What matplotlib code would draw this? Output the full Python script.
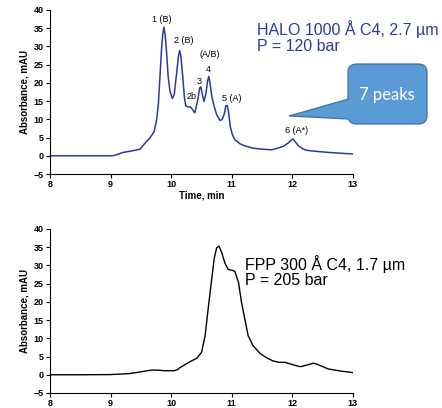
import matplotlib
matplotlib.use("Agg")
import matplotlib.pyplot as plt
from matplotlib.patches import FancyBboxPatch, Polygon, Rectangle

plt.rcParams['font.family'] = ['Liberation Sans', 'DejaVu Sans']

# HALO 1000 A C4 trace (time in min, absorbance in mAU)
halo_t = [8.0, 8.5, 9.0, 9.05, 9.1, 9.15, 9.2, 9.3, 9.4, 9.485, 9.57, 9.65, 9.72,
          9.76, 9.79, 9.815, 9.84, 9.86, 9.88, 9.90, 9.925, 9.95, 9.98, 10.02,
          10.05, 10.09, 10.12, 10.14, 10.16, 10.19, 10.22, 10.24, 10.28, 10.32,
          10.355, 10.39, 10.44, 10.47, 10.49, 10.51, 10.54, 10.57, 10.60, 10.62,
          10.64, 10.67, 10.71, 10.75, 10.805, 10.84, 10.88, 10.90, 10.925, 10.95,
          10.975, 11.01, 11.05, 11.135, 11.22, 11.35, 11.5, 11.66, 11.78, 11.85,
          11.93, 11.98, 12.01, 12.05, 12.10, 12.17, 12.24, 12.4, 12.62, 12.8, 13.0]
halo_v = [0.0, 0.0, 0.0, 0.05, 0.3, 0.6, 0.9, 1.2, 1.5, 1.8, 3.5, 4.9, 6.7,
          9.9, 14.5, 21.8, 29.1, 33.2, 35.3, 33.2, 28.2, 21.8, 17.7, 15.7,
          16.8, 22.7, 27.3, 28.9, 27.3, 21.8, 15.8, 13.7, 13.4, 13.4,
          12.6, 11.8, 15.4, 18.6, 18.9, 17.2, 14.9, 16.8, 20.4, 21.8,
          20.0, 16.3, 13.5, 11.3, 9.7, 9.9, 11.7, 13.7, 13.8, 11.7,
          8.0, 5.8, 4.4, 3.3, 2.7, 2.1, 1.8, 1.65, 2.2, 2.6,
          3.5, 4.3, 4.6, 3.8, 2.75, 1.9, 1.5, 1.2, 0.9, 0.7, 0.5]

# FPP 300 A C4 trace
fpp_t = [8.0, 8.5, 9.0, 9.3, 9.5, 9.6, 9.7, 9.8, 9.9, 10.05, 10.1, 10.15, 10.23,
         10.31, 10.42, 10.50, 10.56, 10.61, 10.67, 10.71, 10.75, 10.79, 10.83,
         10.89, 10.94, 11.0, 11.05, 11.11, 11.16, 11.22, 11.27, 11.35, 11.47,
         11.58, 11.68, 11.78, 11.88, 12.0, 12.13, 12.25, 12.35, 12.45, 12.59,
         12.8, 13.0]
fpp_v = [0.0, 0.0, 0.05, 0.3, 0.8, 1.1, 1.3, 1.25, 1.1, 1.1, 1.4, 2.0, 2.8,
         3.6, 4.5, 6.1, 10.7, 18.1, 26.4, 31.9, 34.8, 35.3, 33.7,
         30.5, 28.9, 28.7, 28.4, 25.4, 19.9, 14.9, 10.7, 8.0, 5.8,
         4.6, 3.8, 3.4, 3.4, 2.8, 2.2, 2.7, 3.2, 2.6, 1.6,
         1.0, 0.6]

# peak labels on the HALO trace
peak_labels = ['1 (B)', '2 (B)', '2b', '3', '(A/B)', '4', '5 (A)', '6 (A*)']
peak_x = [9.84, 10.21, 10.34, 10.46, 10.63, 10.61, 11.0, 12.07]
peak_y = [37.5, 31.6, 16.2, 20.5, 27.7, 23.8, 15.6, 6.9]

xticks = [8, 9, 10, 11, 12, 13]
yticks = [-5, 0, 5, 10, 15, 20, 25, 30, 35, 40]

blue = '#2B3A9E'

fig = plt.figure(figsize=(4.42, 4.08), dpi=100)
ax1 = fig.add_axes([0.1131, 0.5735, 0.6855, 0.402])
ax2 = fig.add_axes([0.1131, 0.0368, 0.6855, 0.402])


def style(ax):
    ax.set_xlim(8, 13)
    ax.set_ylim(-5, 40)
    ax.set_xticks(xticks)
    ax.set_yticks(yticks)
    ax.spines['top'].set_visible(False)
    ax.spines['right'].set_visible(False)
    ax.tick_params(labelsize=6.5, length=3, width=0.8, pad=1.5)
    for lab in ax.get_xticklabels() + ax.get_yticklabels():
        lab.set_fontweight('bold')
    ax.set_ylabel('Absorbance, mAU', fontsize=7, fontweight='bold', labelpad=3)


ax1.plot(halo_t, halo_v, color=blue, lw=1.1, solid_joinstyle='round')
style(ax1)
ax1.set_xlabel('Time, min', fontsize=7, fontweight='bold', labelpad=1)
for lab, x, y in zip(peak_labels, peak_x, peak_y):
    ax1.text(x, y, lab, fontsize=6.5, ha='center', va='center')
ax1.text(11.42, 32.6, 'HALO 1000 Å C4, 2.7 µm\nP = 120 bar', color=blue,
         fontsize=11.5, ha='left', va='center', linespacing=1.05, clip_on=False)

ax2.plot(fpp_t, fpp_v, color='black', lw=1.0, solid_joinstyle='round')
style(ax2)
ax2.text(11.22, 28.3, 'FPP 300 Å C4, 1.7 µm\nP = 205 bar', color='black',
         fontsize=11.5, ha='left', va='center', linespacing=1.05, clip_on=False)

# callout "7 peaks" (figure pixel coordinates converted to fractions)
W, H = 442.0, 408.0
fill = '#5B9BD5'
edge = '#41719C'
box = FancyBboxPatch((348 / W, 1 - 124 / H), 79 / W, 60 / H,
                     boxstyle='round,pad=0,rounding_size=0.02',
                     transform=fig.transFigure, facecolor=fill, edgecolor=edge,
                     lw=0.9, zorder=5)
fig.patches.append(box)
tri = Polygon([(348.5 / W, 1 - 99 / H), (289 / W, 1 - 116 / H), (348.5 / W, 1 - 119 / H)],
              closed=False, transform=fig.transFigure, facecolor=fill,
              edgecolor=edge, lw=0.9, zorder=6)
fig.patches.append(tri)
fig.patches.append(Rectangle((347.5 / W, 1 - 118.5 / H), 3 / W, 19 / H,
                             transform=fig.transFigure, facecolor=fill,
                             edgecolor='none', zorder=7))
fig.text(387 / W, 1 - 95 / H, '7 peaks', color='white', fontsize=12,
         family=['Lato', 'DejaVu Sans'], ha='center', va='center', zorder=8)

fig.savefig('out.png', dpi=100)
